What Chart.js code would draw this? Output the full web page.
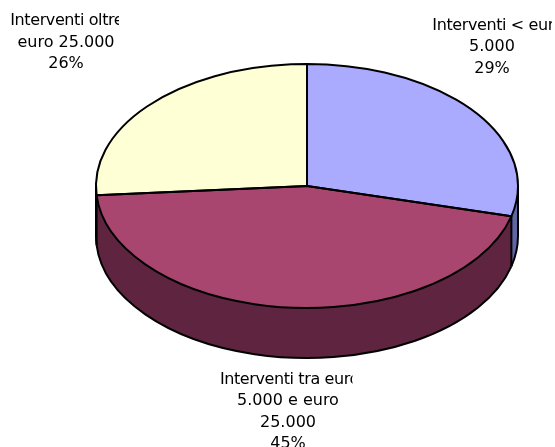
<!DOCTYPE html>
<html>
<head>
<meta charset="utf-8">
<title>Interventi</title>
<script src="https://cdn.jsdelivr.net/npm/chart.js@4"></script>
<style>
    html, body { margin: 0; padding: 0; background: #ffffff; }
    canvas { display: block; }
</style>
</head>
<body>
<canvas id="interventiChart" width="555" height="447"></canvas>
<script>
// dati
var categories = ['Interventi < euro 5.000', 'Interventi tra euro 5.000 e euro 25.000', 'Interventi oltre euro 25.000'];
var values = [29, 44.8, 26.2];
var topColors = ['#aaaaff', '#a8466f', '#ffffd5'];
var sideColors = ['#5f66a3', '#5f2540', '#99997f'];
var labelLines = [
    ['Interventi < euro', '5.000', '29%'],
    ['Interventi tra euro', '5.000 e euro', '25.000', '45%'],
    ['Interventi oltre', 'euro 25.000', '26%']
];

// finta prospettiva 3D
var stretchX = 211 / 122;
var depth = 50;

// dove va ogni etichetta: centro, prima riga, limite del riquadro di testo
// firstShift: la prima riga è tagliata dal riquadro, quindi parte più a destra
var labelBoxes = [
    { x: 492, y: 25.5, firstShift: 5.6, clipLeft: 425, clipRight: 552 },
    { x: 288, y: 379.5, firstShift: 1.4, clipLeft: 215, clipRight: 352.5 },
    { x: 66, y: 21, firstShift: 0.8, clipLeft: 5, clipRight: 119 }
];

function arcPoint(arc, angle, dy) {
    return {
        x: arc.x + Math.cos(angle) * arc.outerRadius * stretchX,
        y: arc.y + Math.sin(angle) * arc.outerRadius + dy
    };
}

function sidePath(ctx, arc, from, to) {
    ctx.beginPath();
    ctx.ellipse(arc.x, arc.y, arc.outerRadius * stretchX, arc.outerRadius, 0, from, to);
    ctx.ellipse(arc.x, arc.y + depth, arc.outerRadius * stretchX, arc.outerRadius, 0, to, from, true);
    ctx.closePath();
}

var pie3d = {
    id: 'pie3d',
    beforeDatasetsDraw: function (chart) {
        var ctx = chart.ctx;
        var arcs = chart.getDatasetMeta(0).data;
        // pareti laterali, solo la metà davanti dell'ellisse
        arcs.forEach(function (arc, i) {
            var from = Math.max(arc.startAngle, 0);
            var to = Math.min(arc.endAngle, Math.PI);
            if (to <= from) return;
            sidePath(ctx, arc, from, to);
            ctx.fillStyle = sideColors[i];
            ctx.fill();
        });
        ctx.save();
        ctx.translate(arcs[0].x, arcs[0].y);
        ctx.scale(stretchX, 1);
        ctx.translate(-arcs[0].x, -arcs[0].y);
    },
    afterDatasetsDraw: function (chart) {
        var ctx = chart.ctx;
        var arcs = chart.getDatasetMeta(0).data;
        ctx.restore();

        ctx.strokeStyle = '#000000';
        ctx.lineWidth = 2;
        ctx.lineJoin = 'round';

        // bordo delle pareti e spigoli verticali
        arcs.forEach(function (arc) {
            var from = Math.max(arc.startAngle, 0);
            var to = Math.min(arc.endAngle, Math.PI);
            if (to <= from) return;
            ctx.beginPath();
            ctx.ellipse(arc.x, arc.y + depth, arc.outerRadius * stretchX, arc.outerRadius, 0, from, to);
            ctx.stroke();
            var a = arcPoint(arc, to, 0);
            var b = arcPoint(arc, to, depth);
            ctx.beginPath();
            ctx.moveTo(a.x, a.y);
            ctx.lineTo(b.x, b.y);
            ctx.stroke();
        });
        // lati destro e sinistro fino al bordo inferiore
        var first = arcs[0];
        [0, Math.PI].forEach(function (angle) {
            var a = arcPoint(first, angle, 0);
            var b = arcPoint(first, angle, depth);
            ctx.beginPath();
            ctx.moveTo(a.x, a.y);
            ctx.lineTo(b.x, b.y);
            ctx.stroke();
        });

        // contorno delle fette
        arcs.forEach(function (arc) {
            ctx.beginPath();
            ctx.moveTo(arc.x, arc.y);
            ctx.ellipse(arc.x, arc.y, arc.outerRadius * stretchX, arc.outerRadius, 0, arc.startAngle, arc.endAngle);
            ctx.closePath();
            ctx.stroke();
        });
    },
    afterDraw: function (chart) {
        var ctx = chart.ctx;
        ctx.fillStyle = '#000000';
        ctx.font = '16px "DejaVu Sans"';
        ctx.textAlign = 'center';
        ctx.textBaseline = 'middle';
        labelLines.forEach(function (lines, i) {
            var box = labelBoxes[i];
            ctx.save();
            ctx.beginPath();
            ctx.rect(box.clipLeft, 0, box.clipRight - box.clipLeft, 447);
            ctx.clip();
            lines.forEach(function (line, n) {
                // la prima riga nel riferimento è un po' più stretta
                ctx.letterSpacing = n === 0 ? '-0.4px' : '0px';
                var shift = n === 0 ? box.firstShift : 0;
                ctx.fillText(line, box.x + shift, box.y + n * 21.6);
            });
            ctx.restore();
        });
    }
};

var ctx = document.getElementById('interventiChart').getContext('2d');
var interventiChart = new Chart(ctx, {
    type: 'pie',
    data: {
        labels: categories,
        datasets: [{
            data: values,
            backgroundColor: topColors,
            borderWidth: 0
        }]
    },
    options: {
        responsive: false,
        animation: false,
        layout: {
            padding: { left: 96, right: 37, top: 64, bottom: 139 }
        },
        plugins: {
            legend: { display: false },
            tooltip: { enabled: false }
        }
    },
    plugins: [pie3d]
});
</script>
</body>
</html>
